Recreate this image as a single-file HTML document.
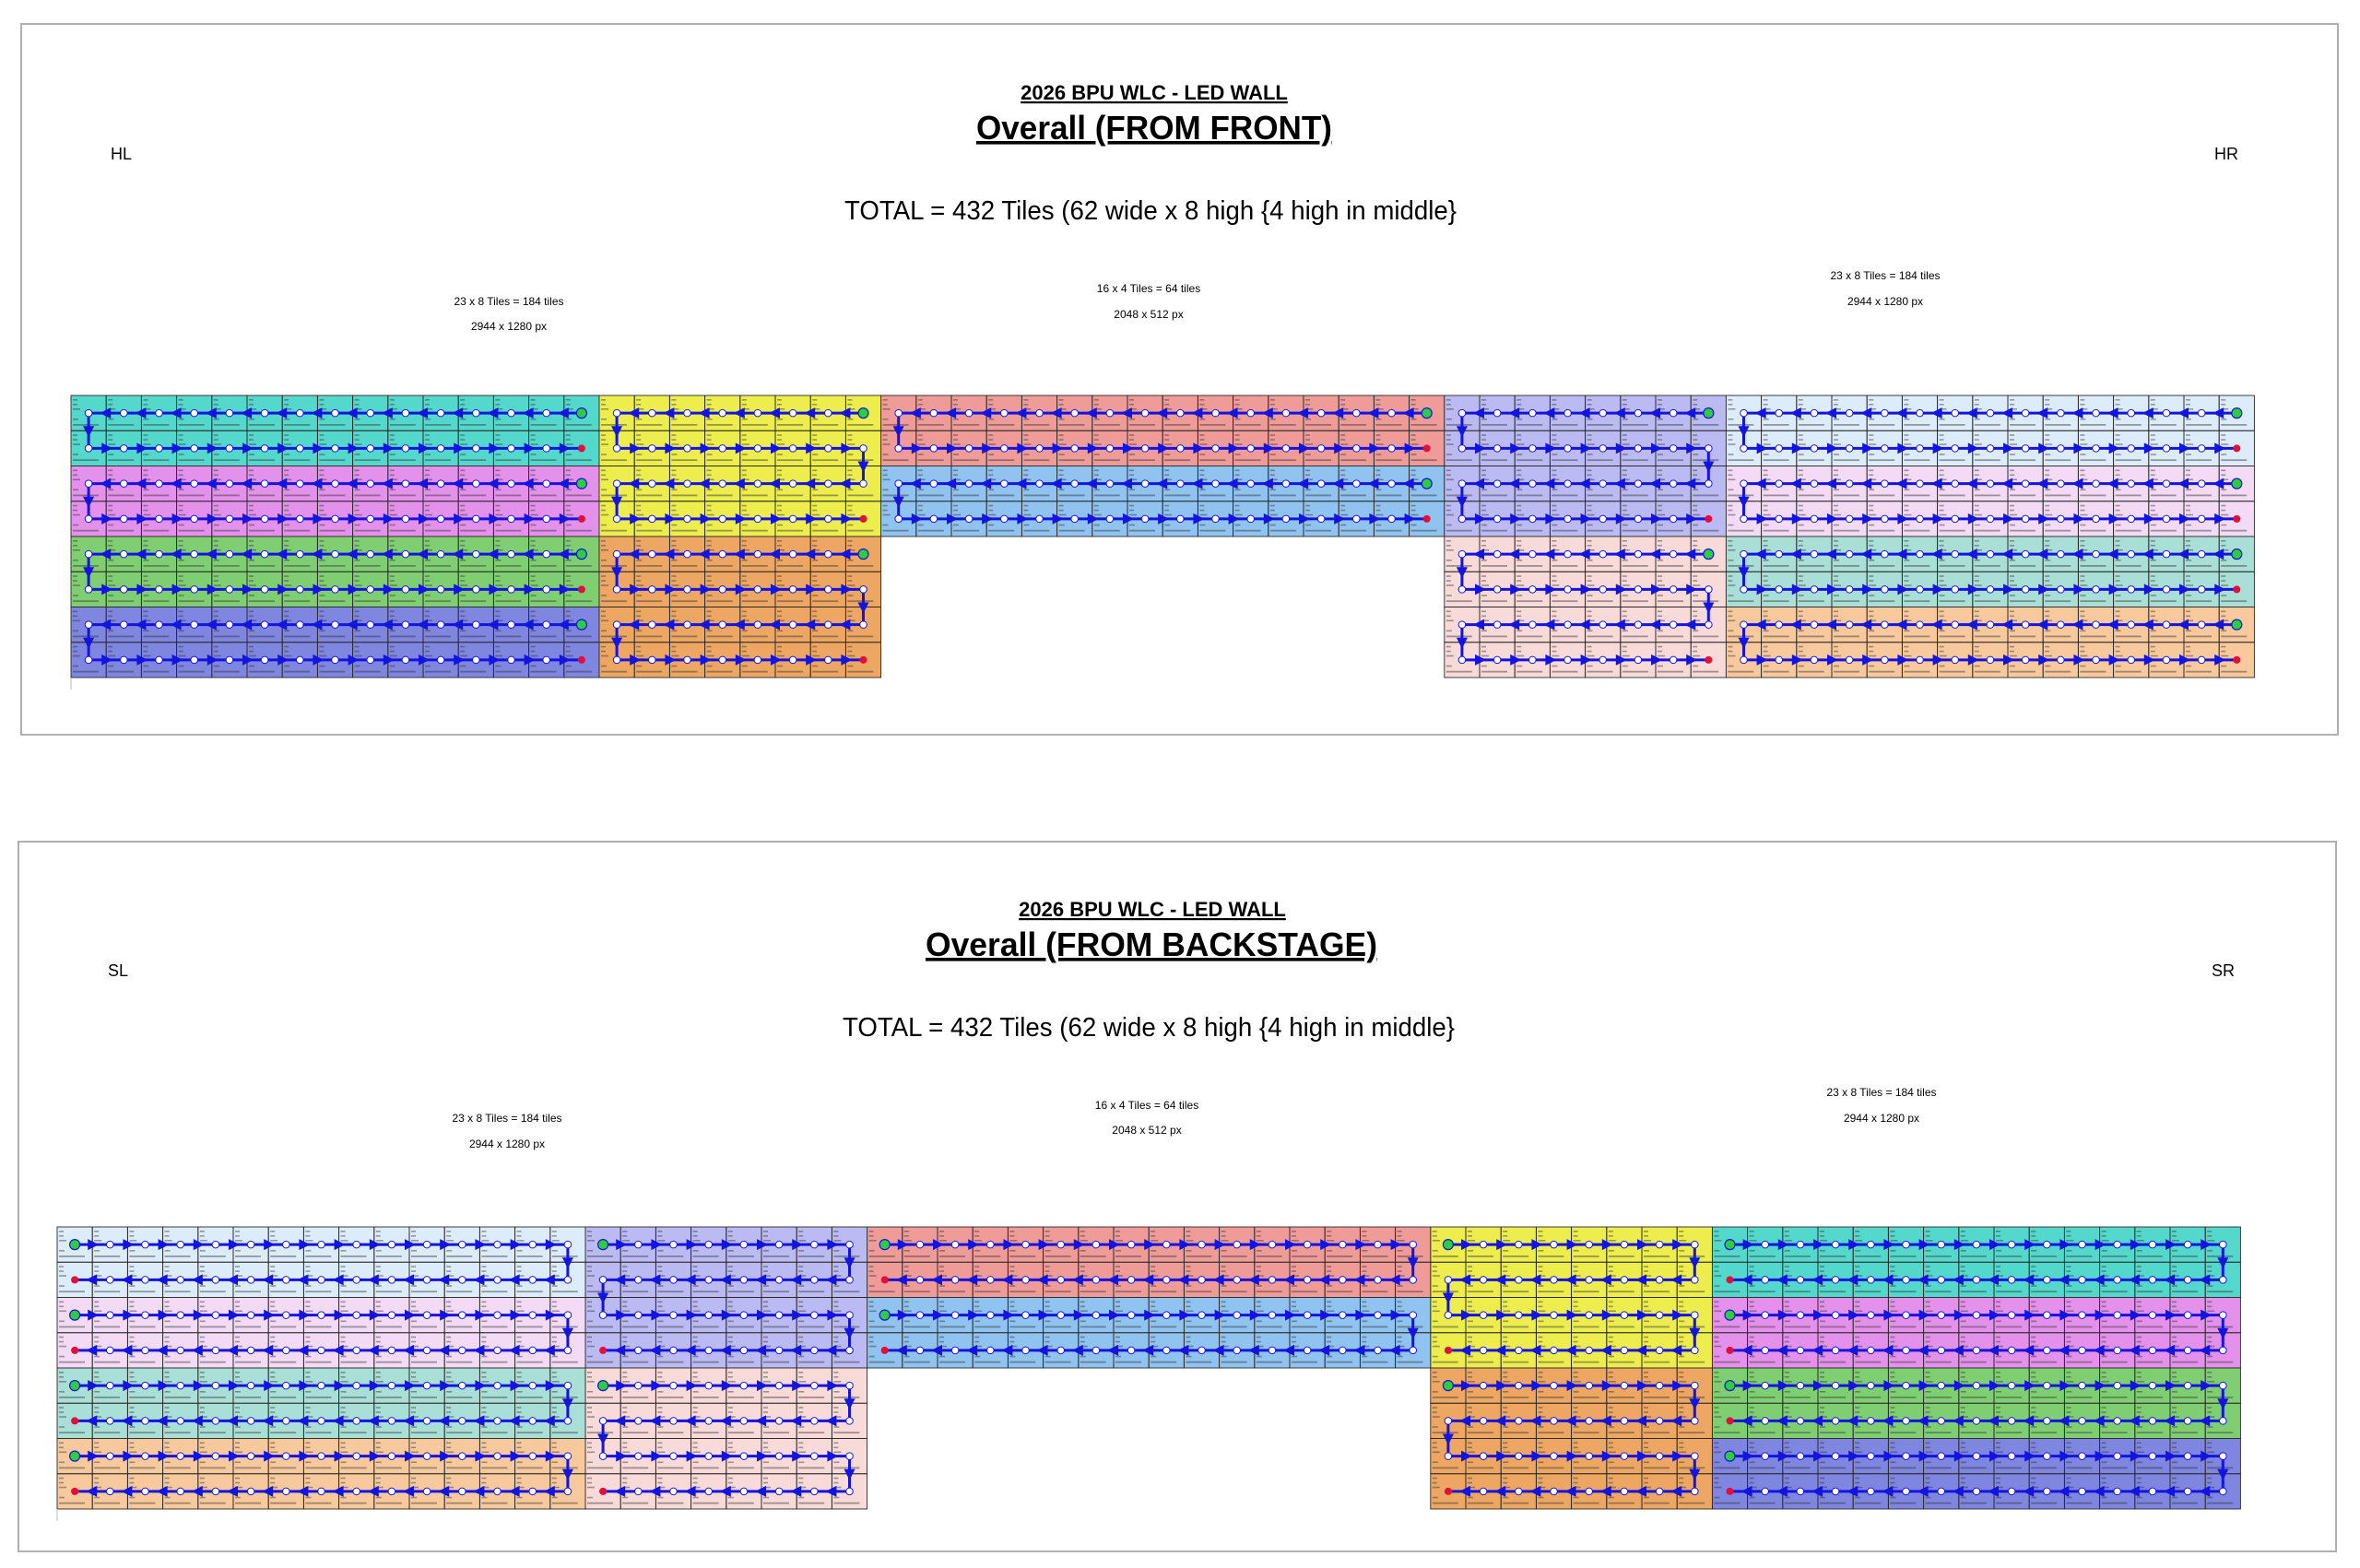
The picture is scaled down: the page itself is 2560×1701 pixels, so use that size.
<!DOCTYPE html>
<html><head><meta charset="utf-8">
<style>
html,body{margin:0;padding:0;background:#fff;}
body{width:2560px;height:1701px;overflow:hidden;position:relative;}
svg{position:absolute;left:0;top:0;}
text{font-family:"Liberation Sans Narrow","Liberation Sans",sans-serif;fill:#000;}
</style></head>
<body>
<svg id="s" width="2560" height="1701" viewBox="0 0 2560 1701" xmlns="http://www.w3.org/2000/svg">
<rect x="23" y="26" width="2513" height="771" fill="none" stroke="#b0b0b0" stroke-width="2"/>
<rect x="20" y="913" width="2514" height="770" fill="none" stroke="#b0b0b0" stroke-width="2"/>

<text x="1252" y="108" font-size="22" font-weight="bold" text-anchor="middle" text-decoration="underline" font-family="Liberation Sans, sans-serif">2026 BPU WLC - LED WALL</text>
<text x="1252" y="151" font-size="36" font-weight="bold" text-anchor="middle" text-decoration="underline" font-family="Liberation Sans, sans-serif" textLength="386" lengthAdjust="spacingAndGlyphs">Overall (FROM FRONT)</text>
<text x="120" y="173" font-size="18">HL</text>
<text x="2402" y="173" font-size="18">HR</text>
<text x="1248" y="238" font-size="29" text-anchor="middle" textLength="664" lengthAdjust="spacingAndGlyphs">TOTAL = 432 Tiles (62 wide x 8 high {4 high in middle}</text>
<text x="552" y="331" font-size="12" text-anchor="middle">23 x 8 Tiles = 184 tiles</text>
<text x="552" y="358" font-size="12" text-anchor="middle">2944 x 1280 px</text>
<text x="1246" y="317" font-size="12" text-anchor="middle">16 x 4 Tiles = 64 tiles</text>
<text x="1246" y="345" font-size="12" text-anchor="middle">2048 x 512 px</text>
<text x="2045" y="303" font-size="12" text-anchor="middle">23 x 8 Tiles = 184 tiles</text>
<text x="2045" y="331" font-size="12" text-anchor="middle">2944 x 1280 px</text>

<text x="1250" y="994" font-size="22" font-weight="bold" text-anchor="middle" text-decoration="underline" font-family="Liberation Sans, sans-serif">2026 BPU WLC - LED WALL</text>
<text x="1249" y="1037" font-size="36" font-weight="bold" text-anchor="middle" text-decoration="underline" font-family="Liberation Sans, sans-serif" textLength="490" lengthAdjust="spacingAndGlyphs">Overall (FROM BACKSTAGE)</text>
<text x="117" y="1059" font-size="18">SL</text>
<text x="2399" y="1059" font-size="18">SR</text>
<text x="1246" y="1124" font-size="29" text-anchor="middle" textLength="664" lengthAdjust="spacingAndGlyphs">TOTAL = 432 Tiles (62 wide x 8 high {4 high in middle}</text>
<text x="550" y="1217" font-size="12" text-anchor="middle">23 x 8 Tiles = 184 tiles</text>
<text x="550" y="1245" font-size="12" text-anchor="middle">2944 x 1280 px</text>
<text x="1244" y="1203" font-size="12" text-anchor="middle">16 x 4 Tiles = 64 tiles</text>
<text x="1244" y="1230" font-size="12" text-anchor="middle">2048 x 512 px</text>
<text x="2041" y="1189" font-size="12" text-anchor="middle">23 x 8 Tiles = 184 tiles</text>
<text x="2041" y="1217" font-size="12" text-anchor="middle">2944 x 1280 px</text>

<g id="top" transform="translate(77,429)"></g>
<g id="bot" transform="translate(62,1331)"></g>
<line x1="77" y1="736" x2="77" y2="748" stroke="#bbb"/>
<line x1="62" y1="1637" x2="62" y2="1650" stroke="#bbb"/>
</svg>
<script>
(function(){
var W=38.2,H=38.25,TOT=62*W;
var B=[
[0,15,0,2,"#55d8cc"],[0,15,2,2,"#e391ea"],[0,15,4,2,"#7fcf72"],[0,15,6,2,"#7e86e0"],
[15,8,0,4,"#eded4e"],[15,8,4,4,"#eda762"],
[23,16,0,2,"#ef9b98"],[23,16,2,2,"#90c3f0"],
[39,8,0,4,"#bbbaf3"],[39,8,4,4,"#f8dad9"],
[47,15,0,2,"#ddecfa"],[47,15,2,2,"#f3dbf5"],[47,15,4,2,"#a9dfd6"],[47,15,6,2,"#f8c99c"]
];
function build(m){
 var X=function(x){return m?TOT-x:x;};
 var out=[];
 B.forEach(function(b){
  var c0=b[0],nc=b[1],r0=b[2],nr=b[3],col=b[4];
  var bx0=Math.min(X(c0*W),X((c0+nc)*W));
  out.push('<rect x="'+bx0+'" y="'+r0*H+'" width="'+nc*W+'" height="'+nr*H+'" fill="'+col+'"/>');
  for(var r=r0;r<r0+nr;r++)for(var c=c0;c<c0+nc;c++){
   var x=Math.min(X(c*W),X((c+1)*W)),y=r*H;
   out.push('<rect x="'+x+'" y="'+y+'" width="'+W+'" height="'+H+'" fill="none" stroke="#2a2a2a" stroke-width="0.9"/>');
   out.push('<g fill="#333" opacity="0.45"><rect x="'+(x+2)+'" y="'+(y+4)+'" width="5" height="1.6"/><rect x="'+(x+2)+'" y="'+(y+9)+'" width="5" height="1.6"/><rect x="'+(x+2)+'" y="'+(y+14)+'" width="8" height="1.6"/><rect x="'+(x+2)+'" y="'+(y+25)+'" width="6" height="1.6"/><rect x="'+(x+2)+'" y="'+(y+31)+'" width="28" height="1.8"/></g>');
  }
  var L=X(c0*W+W/2),R=X((c0+nc-1)*W+W/2);
  var s=m?-1:1;
  for(var i=0;i<nr;i++){
   var yy=(r0+i)*H+H/2;
   out.push('<line x1="'+L+'" y1="'+yy+'" x2="'+R+'" y2="'+yy+'" stroke="#1414e0" stroke-width="3"/>');
   var d=(i%2==0)?-s:s; // pointing direction
   for(var c=c0;c<c0+nc-1;c++){
    var bx=X((c+1)*W);
    out.push('<polygon points="'+(bx+7*d)+','+yy+' '+(bx-5*d)+','+(yy-6)+' '+(bx-5*d)+','+(yy+6)+'" fill="#1414e0"/>');
   }
   if(i<nr-1){
    var vx=(i%2==0)?L:R;
    out.push('<line x1="'+vx+'" y1="'+yy+'" x2="'+vx+'" y2="'+(yy+H)+'" stroke="#1414e0" stroke-width="3"/>');
    out.push('<polygon points="'+vx+','+(yy+H/2+7)+' '+(vx-6)+','+(yy+H/2-5)+' '+(vx+6)+','+(yy+H/2-5)+'" fill="#1414e0"/>');
   }
   for(var c=c0;c<c0+nc;c++){
    var cx=X(c*W+W/2);
    if(c==c0+nc-1 && i==0) out.push('<circle cx="'+cx+'" cy="'+yy+'" r="5.5" fill="#2ecc40" stroke="#1414e0" stroke-width="1.2"/>');
    else if(c==c0+nc-1 && i==nr-1) out.push('<circle cx="'+cx+'" cy="'+yy+'" r="4" fill="#e0103a"/>');
    else out.push('<circle cx="'+cx+'" cy="'+yy+'" r="3.8" fill="#fff" stroke="#1414e0" stroke-width="1"/>');
   }
  }
 });
 return out.join('');
}
document.getElementById('top').innerHTML=build(false);
document.getElementById('bot').innerHTML=build(true);
})();
</script>
</body></html>
